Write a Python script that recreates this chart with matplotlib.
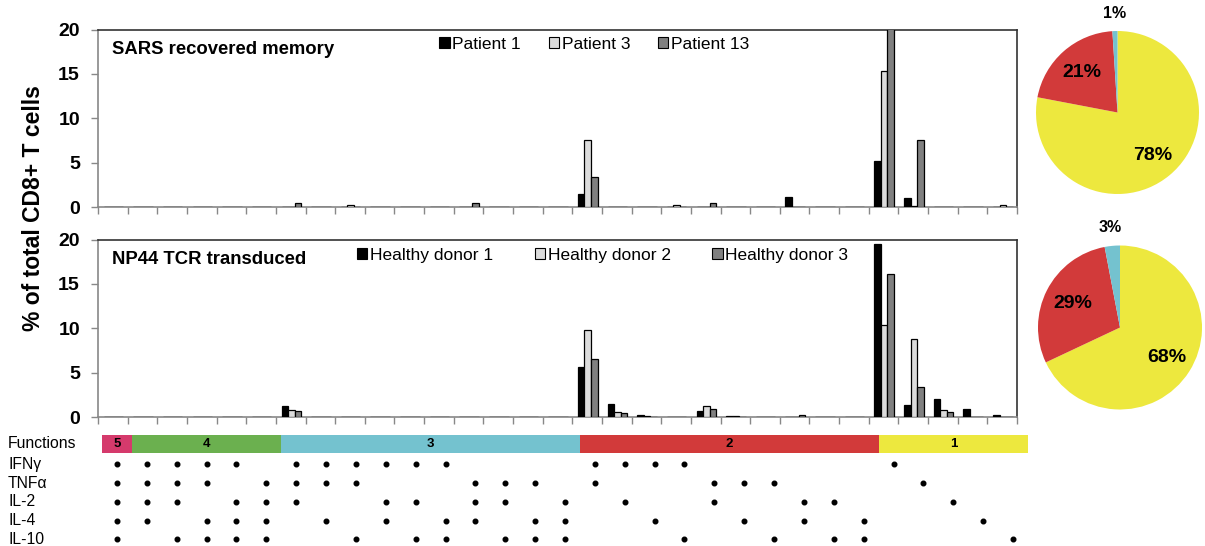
import numpy as np
import matplotlib
matplotlib.use("Agg")
import matplotlib.pyplot as plt
from matplotlib.patches import Patch

plt.rcParams['font.family'] = ['Liberation Sans', 'DejaVu Sans']

# ---------------- data ----------------
functions = ['IFNγ', 'TNFα', 'IL-2', 'IL-4', 'IL-10']
# one code per category: which of (IFNγ, TNFα, IL-2, IL-4, IL-10) are produced
combos = ['11111', '11110', '11101', '11011', '10111', '01111',
          '11100', '11010', '11001', '10110', '10101', '10011', '01110', '01101', '01011', '00111',
          '11000', '10100', '10010', '10001', '01100', '01010', '01001', '00110', '00101', '00011',
          '10000', '01000', '00100', '00010', '00001']
group_labels = ['5', '4', '3', '2', '1']
group_sizes = [1, 5, 10, 10, 5]
group_colors = ['#D53A6C', '#6BB04F', '#74C2CF', '#D23A3A', '#EDE83E']

sars_series = ['Patient 1', 'Patient 3', 'Patient 13']
patient1 = [0, 0, 0, 0, 0, 0, 0, 0, 0, 0, 0, 0, 0, 0, 0, 0, 1.5, 0, 0, 0, 0, 0, 0, 1.1, 0, 0, 5.2, 1.05, 0, 0, 0]
patient3 = [0, 0, 0, 0, 0, 0, 0, 0, 0.2, 0, 0, 0, 0, 0, 0, 0, 7.5, 0, 0, 0.2, 0, 0, 0, 0, 0, 0, 15.3, 0.15, 0, 0, 0.2]
patient13 = [0, 0, 0, 0, 0, 0, 0.4, 0, 0, 0, 0, 0, 0.4, 0, 0, 0, 3.4, 0, 0, 0, 0.4, 0, 0, 0, 0, 0, 22, 7.5, 0, 0, 0]

np44_series = ['Healthy donor 1', 'Healthy donor 2', 'Healthy donor 3']
donor1 = [0, 0, 0, 0, 0, 0, 1.27, 0, 0, 0, 0, 0, 0, 0, 0, 0, 5.6, 1.43, 0.2, 0, 0.64, 0.15, 0, 0, 0, 0, 19.5, 1.4, 2.0, 0.86, 0.2]
donor2 = [0, 0, 0, 0, 0, 0, 0.82, 0, 0, 0, 0, 0, 0, 0, 0, 0, 9.85, 0.56, 0.15, 0, 1.2, 0.15, 0, 0, 0, 0, 10.4, 8.8, 0.75, 0, 0]
donor3 = [0, 0, 0, 0, 0, 0, 0.64, 0, 0, 0, 0, 0, 0, 0, 0, 0, 6.5, 0.4, 0.05, 0, 0.94, 0, 0, 0.2, 0, 0, 16.1, 3.35, 0.56, 0, 0]

pie_sars = [78, 21, 1]      # 1, 2, 3 functions
pie_np44 = [68, 29, 3]

bar_colors = ['#000000', '#DCDCDC', '#808080']

# ---------------- figure ----------------
W, H = 1205, 546
fig = plt.figure(figsize=(W / 100, H / 100), dpi=100)


def px_axes(x0, y0, x1, y1):
    return fig.add_axes([x0 / W, 1 - y1 / H, (x1 - x0) / W, (y1 - y0) / H])


def bar_panel(ax, series, names, title, leg_x, leg_y, colsp):
    n = len(series[0])
    x = np.arange(n)
    w = 0.22
    for i, (vals, c) in enumerate(zip(series, bar_colors)):
        ax.bar(x + (i - 1) * w + 0.02, vals, width=w, color=c, edgecolor='black', linewidth=0.9, zorder=3)
    ax.set_xlim(-0.5, n - 0.5)
    ax.set_ylim(0, 20)
    ax.set_yticks([0, 5, 10, 15, 20])
    ax.set_xticks(np.arange(n + 1) - 0.5)
    ax.set_xticklabels([])
    ax.tick_params(axis='x', direction='out', length=5, width=1, color='#888888')
    ax.tick_params(axis='y', direction='out', length=5, width=1, color='#888888', pad=8, labelsize=14)
    for lab in ax.get_yticklabels():
        lab.set_fontweight('bold')
    for s in ['top', 'right']:
        ax.spines[s].set_color('#333333')
        ax.spines[s].set_linewidth(1.2)
    for s in ['left', 'bottom']:
        ax.spines[s].set_color('#888888')
        ax.spines[s].set_linewidth(1.2)
    ax.text(0.015, 0.885, title, transform=ax.transAxes, fontsize=13.3, fontweight='bold', va='center')
    handles = [Patch(facecolor=c, edgecolor='black', linewidth=0.8) for c in bar_colors]
    ax.legend(handles, names, loc='center', bbox_to_anchor=(leg_x, leg_y), ncol=3, frameon=False,
              fontsize=12.5, handlelength=0.6, handleheight=0.6, handletextpad=0.15, columnspacing=colsp)


ax1 = px_axes(98, 29.5, 1017, 207)
bar_panel(ax1, [patient1, patient3, patient13], sars_series, 'SARS recovered memory', 0.54, 0.915, 1.6)
ax2 = px_axes(98, 239.5, 1017, 417)
bar_panel(ax2, [donor1, donor2, donor3], np44_series, 'NP44 TCR transduced', 0.549, 0.91, 2.4)

fig.text(34 / W, 1 - 208 / H, '% of total CD8+ T cells', rotation=90, fontsize=16.5,
         fontweight='bold', ha='center', va='center')

# ---------------- combination table ----------------
axt = px_axes(102, 428, 1028, 546)
axt.set_xlim(-0.5, 30.5)
axt.set_ylim(4.35, -1.93)
axt.axis('off')
starts = -0.5 + np.concatenate([[0], np.cumsum(group_sizes)[:-1]])
axt.barh(-1.068, group_sizes, left=starts, height=0.99, color=group_colors, edgecolor='none')
for s, n, lab in zip(starts, group_sizes, group_labels):
    axt.text(s + n / 2, -1.068, lab, ha='center', va='center', fontsize=9.5, fontweight='bold')
for r in range(len(functions)):
    cols = [c for c, code in enumerate(combos) if code[r] == '1']
    axt.scatter(cols, [r] * len(cols), s=11, color='black', zorder=3)
tr = axt.get_yaxis_transform()
axt.text(-0.1015, -1.09, 'Functions', transform=tr, fontsize=11.3, va='center', ha='left')
for r, f in enumerate(functions):
    axt.text(-0.1015, r, f, transform=tr, fontsize=11.3, va='center', ha='left')


# ---------------- pies ----------------
def pie_panel(cx, cy, r, vals, dists, sizes):
    ax = px_axes(cx - r, cy - r, cx + r, cy + r)
    wedges, _ = ax.pie(vals, colors=[group_colors[4], group_colors[3], group_colors[2]],
                       startangle=90, counterclock=False, radius=1)
    ax.set_xlim(-1, 1)
    ax.set_ylim(-1, 1)
    for wdg, v, d, fs in zip(wedges, vals, dists, sizes):
        th = np.deg2rad((wdg.theta1 + wdg.theta2) / 2)
        ax.text(d * np.cos(th), d * np.sin(th), f'{v}%', ha='center', va='center',
                fontsize=fs, fontweight='bold', clip_on=False)


pie_panel(1117.5, 112.5, 81.5, pie_sars, [0.68, 0.66, 1.22], [14, 14, 11.5])
pie_panel(1120, 327.5, 82, pie_np44, [0.68, 0.65, 1.22], [14, 14, 11.5])

fig.savefig('out.png', dpi=100)
